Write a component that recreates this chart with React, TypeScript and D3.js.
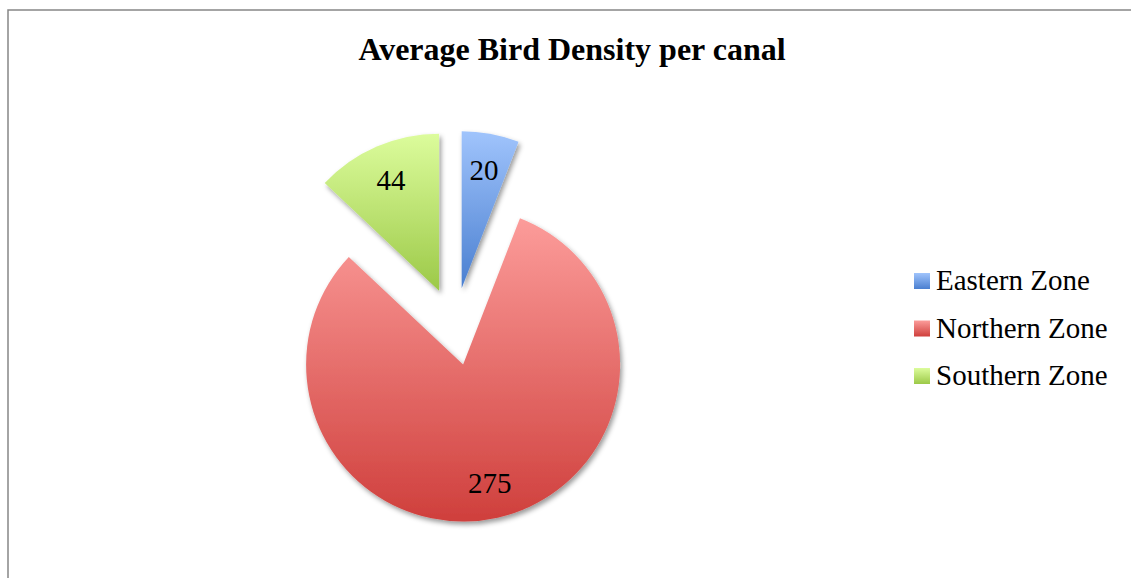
import React from "react";
import * as d3 from "d3";

const title = "Average Bird Density per canal";
const categories = ["Eastern Zone", "Northern Zone", "Southern Zone"];
const values = [20, 275, 44];
const gradTop = ["#a0c4fc", "#fc9c9a", "#dcfc9c"];
const gradBottom = ["#4a7fd0", "#cf3f3c", "#9cc948"];

const W = 1131;
const H = 578;
const cx = 454.5;
const cy = 326.5;
const R = 157;
const explode = 39;
const labelFrac = 0.77;
const font = "'Liberation Serif', 'Times New Roman', Times, serif";

export default function App() {
  const pie = d3
    .pie<number>()
    .sort(null)
    .value((d) => d)
    .startAngle(0)
    .endAngle(2 * Math.PI);
  const arcs = pie(values);
  const arc = d3.arc<d3.PieArcDatum<number>>().innerRadius(0).outerRadius(R);
  const labelArc = d3
    .arc<d3.PieArcDatum<number>>()
    .innerRadius(R * labelFrac)
    .outerRadius(R * labelFrac);

  const legendY = d3.scalePoint<string>().domain(categories).range([290, 385]);

  return (
    <svg
      width={W}
      height={H}
      style={{ position: "absolute", left: 0, top: 0, background: "#fff" }}
    >
      <defs>
        {categories.map((c, i) => (
          <linearGradient key={c} id={`g${i}`} x1="0" y1="0" x2="0" y2="1">
            <stop offset="0" stopColor={gradTop[i]} />
            <stop offset="1" stopColor={gradBottom[i]} />
          </linearGradient>
        ))}
        <filter id="shadow" x="-20%" y="-20%" width="140%" height="140%">
          <feDropShadow dx="2" dy="3" stdDeviation="2.5" floodColor="#000" floodOpacity="0.4" />
        </filter>
      </defs>
      <rect x={8} y={10} width={W + 20} height={H + 20} fill="#fff" stroke="#868686" strokeWidth={1.5} />
      <text
        x={572}
        y={60}
        textAnchor="middle"
        fontFamily={font}
        fontWeight="bold"
        fontSize={32}
        fill="#000"
      >
        {title}
      </text>
      {arcs.map((a, i) => {
        const mid = (a.startAngle + a.endAngle) / 2;
        const dx = Math.sin(mid) * explode;
        const dy = -Math.cos(mid) * explode;
        const [lx, ly] = labelArc.centroid(a);
        return (
          <g key={categories[i]} transform={`translate(${cx + dx},${cy + dy})`}>
            <path d={arc(a) || ""} fill={`url(#g${i})`} filter="url(#shadow)" />
            <text
              x={lx}
              y={ly}
              dy="0.35em"
              textAnchor="middle"
              fontFamily={font}
              fontSize={29}
              fill="#000"
            >
              {values[i]}
            </text>
          </g>
        );
      })}
      {categories.map((c, i) => {
        const y = legendY(c) as number;
        return (
          <g key={c}>
            <rect x={914} y={y - 17} width={16} height={16} fill={`url(#g${i})`} />
            <text x={936} y={y} fontFamily={font} fontSize={29} fill="#000">
              {c}
            </text>
          </g>
        );
      })}
    </svg>
  );
}
